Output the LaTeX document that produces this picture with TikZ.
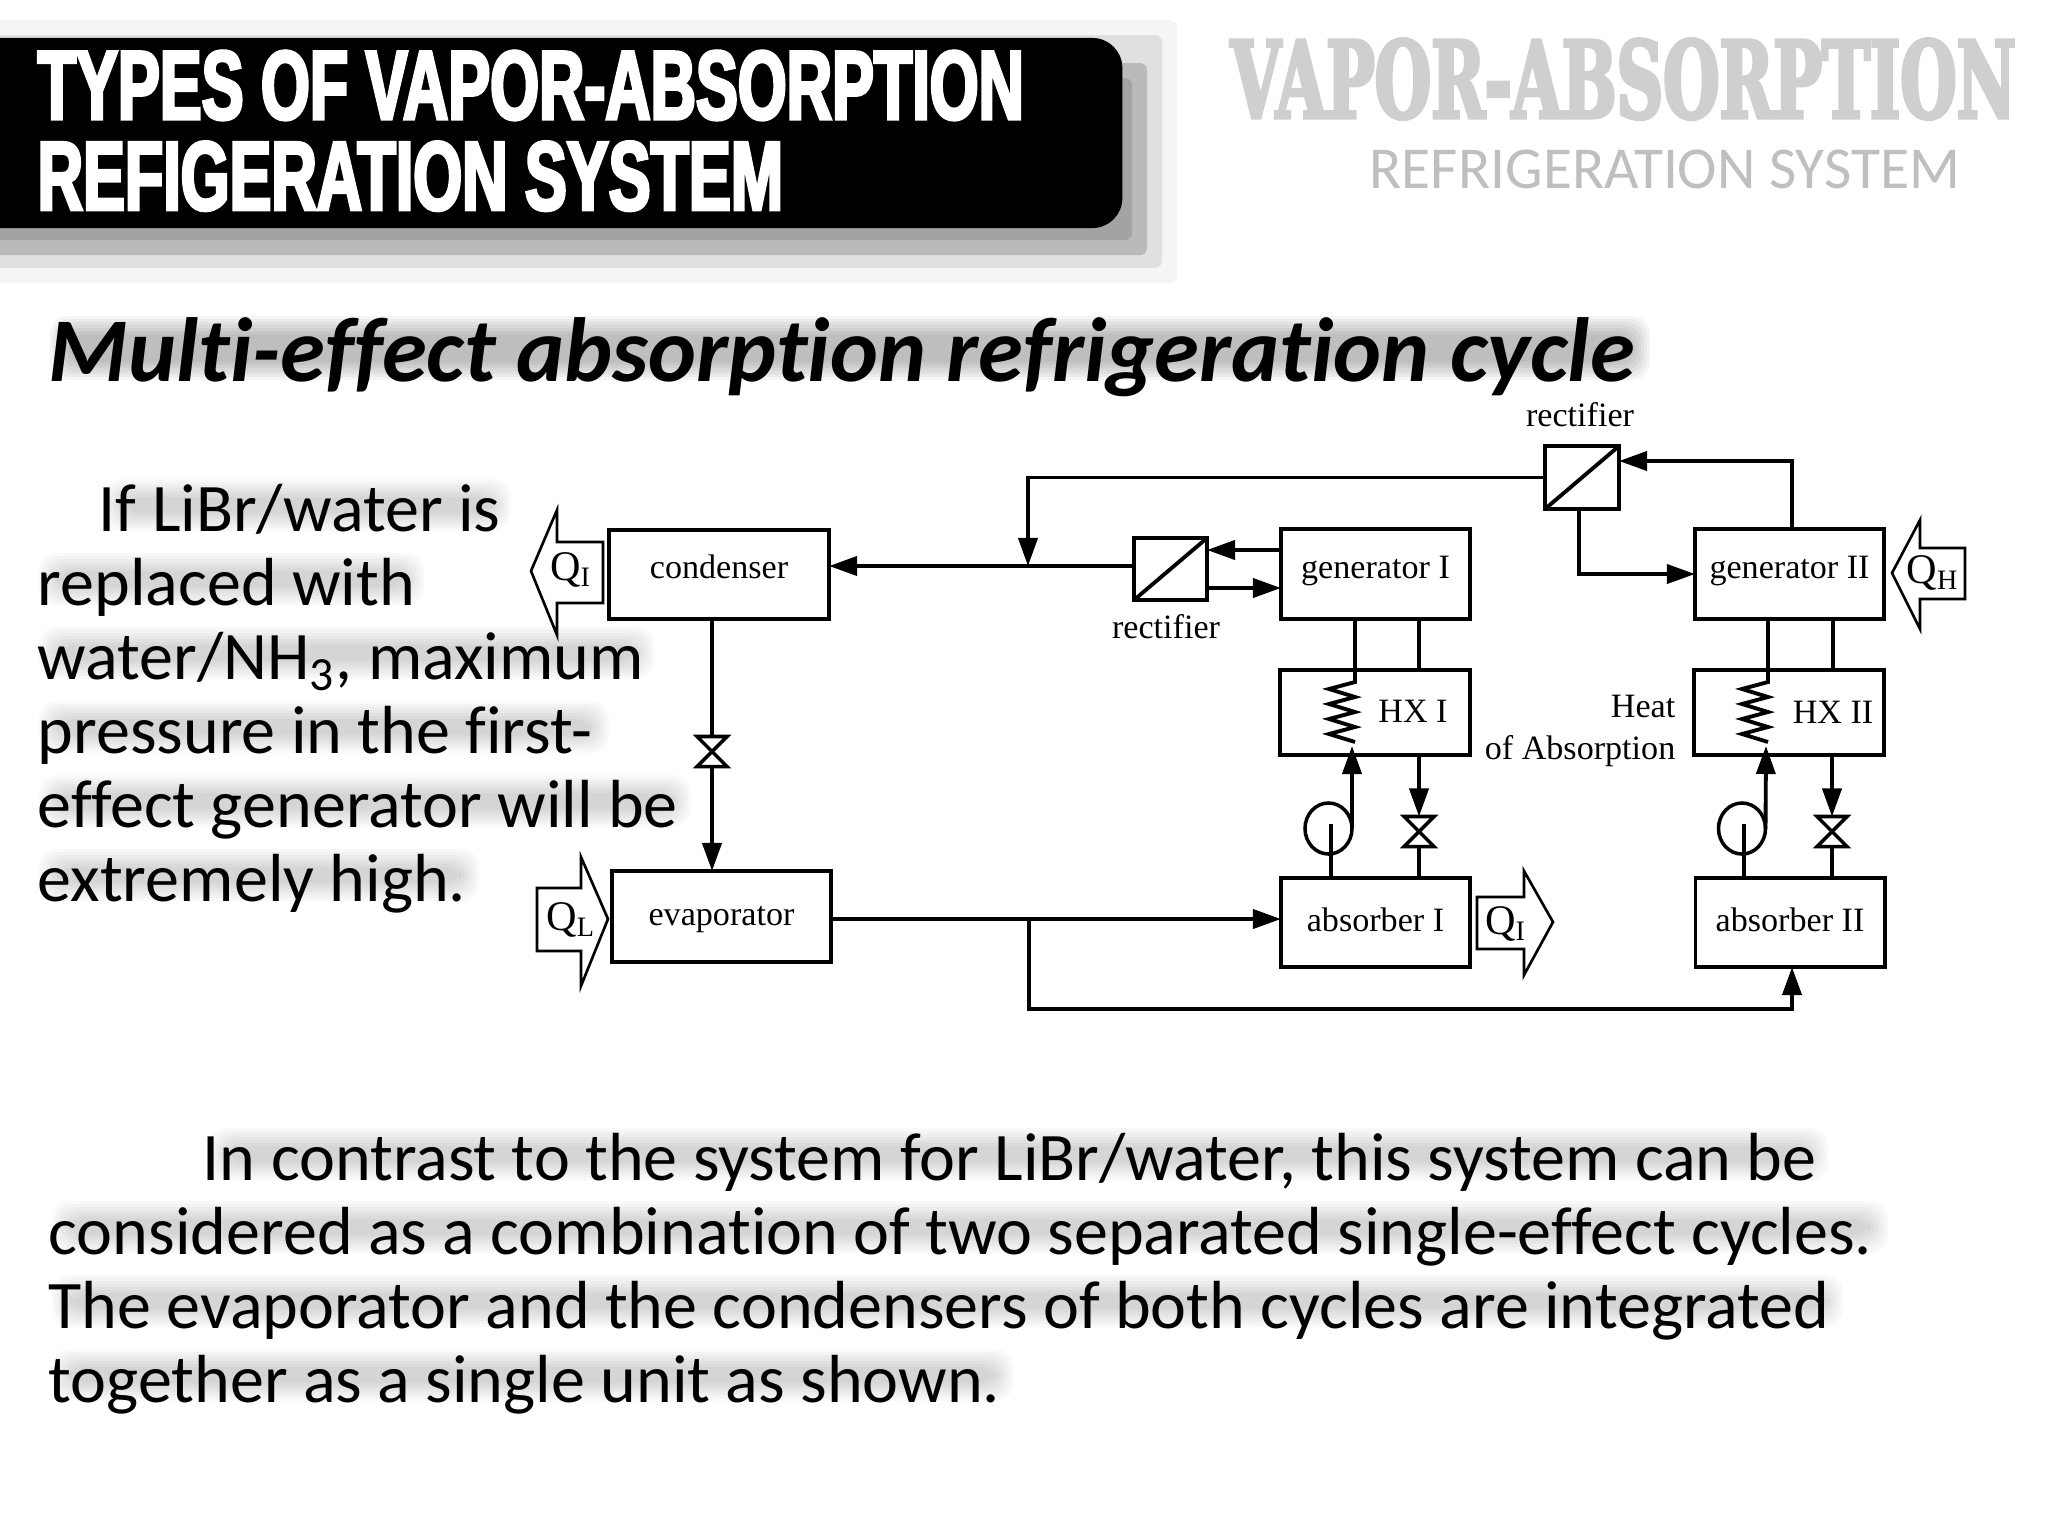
\documentclass[tikz,border=0pt]{standalone}
\usepackage{fontspec}
\usepackage{xcolor}
\setmainfont{Liberation Serif}
\newfontfamily\bodyfont[Ligatures=NoCommon]{Carlito}
\newfontfamily\bannerfont[FakeStretch=0.64,FakeBold=3]{Liberation Sans}
\newfontfamily\markfont[FakeStretch=0.605,FakeBold=3]{DejaVu Serif}
\usetikzlibrary{shapes.geometric, arrows.meta, positioning, calc}
\definecolor{markgray}{HTML}{CFCFCF}
\definecolor{subgray}{HTML}{BFBFBF}
\tikzset{
  unitbox/.style={
    draw, line width=1.1pt, minimum width=1.9cm, minimum height=0.9cm,
    inner sep=0pt, outer sep=0pt, font=\fontsize{9.7}{12}\selectfont,
    text height=7pt, text depth=4.6pt
  },
  lowunit/.style={unitbox, text height=8.6pt, text depth=3.4pt},
  rectbox/.style={draw, line width=1.1pt, inner sep=0pt, outer sep=0pt},
  flowline/.style={line width=1.1pt},
  flowarrow/.style={line width=1.1pt, -{Triangle[length=2.8mm, width=1.9mm]}},
  valvenode/.style={minimum width=0.3cm, minimum height=0.3cm, inner sep=0pt, outer sep=0pt},
  valveline/.style={line width=1pt},
  pumpnode/.style={draw, ellipse, line width=1pt, minimum width=0.47cm, minimum height=0.51cm, inner sep=0pt, outer sep=0pt},
  heatarrow/.style={draw, line width=0.75pt},
  heatlabel/.style={font=\fontsize{12}{14}\selectfont, inner sep=0pt},
  difflabel/.style={font=\fontsize{9.7}{11.7}\selectfont, inner sep=0pt},
  parafont/.style={font=\bodyfont\fontsize{19.35}{21}\selectfont, align=left, inner sep=0pt, anchor=north west},
  headfont/.style={font=\bodyfont\bfseries\itshape\fontsize{25.9}{30}\selectfont, inner sep=0pt, anchor=base west},
  hazeband/.style={fill=black, fill opacity=0.022, rounded corners=5pt},
  shadowband/.style={rounded corners=2pt},
}
\begin{document}
\begin{tikzpicture}[x=0.01cm, y=-0.01cm]
  \useasboundingbox (0,0) rectangle (2048,1536);
  \fill[white] (0,0) rectangle (2048,1536);

  % Banner with stepped shadow
  \fill[shadowband, fill=black!4] (-30,20) rectangle (1177,283);
  \fill[shadowband, fill=black!12] (-30,35) rectangle (1162,268);
  \fill[shadowband, fill=black!27] (-30,63) rectangle (1147,255);
  \fill[shadowband, fill=black!36] (-30,78) rectangle (1132,240);
  \node[fill=black, rounded corners=8.5pt, minimum width=11.62cm, minimum height=1.9cm, inner sep=0pt] (banner) at (541,133) {};
  \node[font=\bannerfont\bfseries\fontsize{27.9}{25.8}\selectfont, text=white, align=left, inner sep=0pt, anchor=north west] (bannertitle) at (37,50) {TYPES OF VAPOR-ABSORPTION\\REFIGERATION SYSTEM};

  % Corner mark
  \node[font=\markfont\bfseries\fontsize{30.4}{36}\selectfont, text=markgray, inner sep=0pt, anchor=base west] (mark) at (1230,118) {VAPOR-ABSORPTION};
  \node[font=\bodyfont\fontsize{16.9}{20}\selectfont, text=subgray, inner sep=0pt, anchor=base west] (marksub) at (1369,188) {REFRIGERATION SYSTEM};

  % Soft shadows behind the text
  \foreach \pad in {-8,-5,-2,1,4,7,10} {
    \fill[hazeband, fill opacity=0.04] (60-\pad,326-\pad) rectangle (1640+\pad,370+\pad);
    \foreach \xa/\xb/\base in {114/500/531, 49/414/605, 49/644/679, 49/599/753, 49/681/827, 49/469/901,
                               219/1818/1180, 62/1878/1253, 62/1833/1327, 62/1003/1401} {
      \fill[hazeband] (\xa-\pad,\base-42-\pad) rectangle (\xb+\pad,\base-10+\pad);
    }
  }

  % Heading
  \node[headfont] (head) at (48,381) {Multi-effect absorption refrigeration cycle};

  % Paragraphs
  \node[parafont] (left) at (37,484) {\hspace*{0.61cm}If LiBr/water is\\replaced with\\water/NH\textsubscript{3}, maximum\\pressure in the first-\\effect generator will be\\extremely high.};
  \node[parafont] (bottom) at (48,1133) {\hspace*{1.54cm}In contrast to the system for LiBr/water, this system can be\\considered as a combination of two separated single-effect cycles.\\The evaporator and the condensers of both cycles are integrated\\together as a single unit as shown.};

  % Units
  \node[unitbox, minimum width=2.2cm, minimum height=0.89cm] (cond) at (719,574.5) {condenser};
  \node[lowunit, minimum width=2.19cm, minimum height=0.91cm] (evap) at (721.5,916.5) {evaporator};
  \node[unitbox, minimum width=1.89cm] (gen1) at (1375.5,574) {generator I};
  \node[unitbox, minimum height=0.85cm] (hx1) at (1375,712.5) {};
  \node[lowunit, minimum width=1.89cm, minimum height=0.89cm] (abs1) at (1375.5,922.5) {absorber I};
  \node[unitbox, minimum width=1.89cm] (gen2) at (1789.5,574) {generator II};
  \node[unitbox, minimum height=0.85cm] (hx2) at (1789,712.5) {};
  \node[lowunit, minimum width=1.89cm, minimum height=0.89cm] (abs2) at (1790,922.5) {absorber II};
  \node[difflabel] (hx1text) at (1413,711) {HX I};
  \node[difflabel] (hx2text) at (1833,712) {HX II};

  % Rectifiers
  \node[rectbox, minimum width=0.73cm, minimum height=0.62cm] (rect1) at (1170.5,569) {};
  \node[rectbox, minimum width=0.74cm, minimum height=0.63cm] (rect2) at (1582,477.5) {};
  \draw[flowline] (rect1.south west) -- (rect1.north east);
  \draw[flowline] (rect2.south west) -- (rect2.north east);
  \node[difflabel] (rect1text) at (1166,627) {rectifier};
  \node[difflabel] (rect2text) at (1580,415) {rectifier};

  % Valves and pumps
  \node[valvenode] (v1) at (712,751.5) {};
  \node[valvenode] (v2) at (1419,831.5) {};
  \node[valvenode] (v3) at (1832,831.5) {};
  \draw[valveline] (v1.north west) -- (v1.north east) -- (v1.south west) -- (v1.south east) -- cycle;
  \draw[valveline] (v2.north west) -- (v2.north east) -- (v2.south west) -- (v2.south east) -- cycle;
  \draw[valveline] (v3.north west) -- (v3.north east) -- (v3.south west) -- (v3.south east) -- cycle;
  \node[pumpnode] (pump1) at (1328.5,828.5) {};
  \node[pumpnode] (pump2) at (1742,828.5) {};

  % Junctions
  \coordinate (jn1) at (1028,566);
  \coordinate (jn2) at (1029,919);
  \coordinate (bus) at (1792,1009);
  \coordinate (r1in) at (1207,550);
  \coordinate (r1out) at (1207,588);
  \coordinate (r2in) at (1619,461);
  \coordinate (r2out) at (1579,509);
  \coordinate (gen1a) at (1355,670);
  \coordinate (gen1b) at (1419,670);
  \coordinate (gen2a) at (1768,670);
  \coordinate (gen2b) at (1833,670);
  \coordinate (coil1) at (1355,682);
  \coordinate (coil2) at (1768,682);
  \coordinate (coilend1) at (1352,746);
  \coordinate (coilend2) at (1766,746);
  \coordinate (p1in) at (1331,824);
  \coordinate (p2in) at (1744,824);

  % Arrows
  \draw[flowarrow] (rect1.west |- jn1) -- (cond.east |- jn1);
  \draw[flowarrow] (rect2.west) -| (jn1);
  \draw[flowarrow] (gen1.west |- r1in) -- (r1in);
  \draw[flowarrow] (r1out) -- (gen1.west |- r1out);
  \draw[flowline] (cond.south -| v1.north) -- (v1.north);
  \draw[flowarrow] (v1.south) -- (evap.north -| v1.south);
  \draw[flowarrow] (evap.east |- jn2) -- (abs1.west |- jn2);
  \draw[flowarrow] (jn2) |- (bus) -- (abs2.south -| bus);
  \draw[flowarrow] (gen2.north -| bus) |- (r2in);
  \draw[flowarrow] (r2out) |- (gen2.west);

  % Exchanger loops
  \draw[flowline] (gen1.south -| gen1a) -- (gen1a);
  \draw[flowline] (gen1.south -| gen1b) -- (gen1b);
  \draw[flowline] (gen2.south -| gen2a) -- (gen2a);
  \draw[flowline] (gen2.south -| gen2b) -- (gen2b);
  \draw[flowline] (gen1a) -- (coil1) -- ++(-26,7) -- ++(26,8) -- ++(-26,7) -- ++(26,8) -- ++(-26,7) -- ++(26,8) -- ++(-26,7) -- ++(26,8);
  \draw[flowline] (gen2a) -- (coil2) -- ++(-26,7) -- ++(26,8) -- ++(-26,7) -- ++(26,8) -- ++(-26,7) -- ++(26,8) -- ++(-26,7) -- ++(26,8);
  \draw[flowarrow] (pump1.east) -- (coilend1);
  \draw[flowarrow] (pump2.east) -- (coilend2);
  \draw[flowline] (abs1.north -| p1in) -- (p1in);
  \draw[flowline] (abs2.north -| p2in) -- (p2in);
  \draw[flowarrow] (hx1.south -| v2.north) -- (v2.north);
  \draw[flowarrow] (hx2.south -| v3.north) -- (v3.north);
  \draw[flowline] (abs1.north -| v2.south) -- (v2.south);
  \draw[flowline] (abs2.north -| v3.south) -- (v3.south);

  % Heat arrows
  \draw[heatarrow] (603,542) -- (557,542) -- (557,510) -- (531,571) -- (557,635) -- (557,603) -- (603,603) -- cycle;
  \draw[heatarrow] (537,888) -- (581,888) -- (581,857) -- (608,919) -- (581,986) -- (581,951) -- (537,951) -- cycle;
  \draw[heatarrow] (1477,897) -- (1524,897) -- (1524,871) -- (1553,922) -- (1524,975) -- (1524,949) -- (1477,949) -- cycle;
  \draw[heatarrow] (1965,548) -- (1920,548) -- (1920,520) -- (1892,573) -- (1920,629) -- (1920,599) -- (1965,599) -- cycle;
  \node[heatlabel] (qout) at (571,570) {Q\textsubscript{I}};
  \node[heatlabel] (qlow) at (571,920) {Q\textsubscript{L}};
  \node[heatlabel] (qabs) at (1506,924) {Q\textsubscript{I}};
  \node[heatlabel] (qhigh) at (1933,573) {Q\textsubscript{H}};

  % Heat of absorption
  \node[difflabel, align=right, anchor=east] (heat) at (1676,731) {Heat\\of Absorption};
\end{tikzpicture}
\end{document}
